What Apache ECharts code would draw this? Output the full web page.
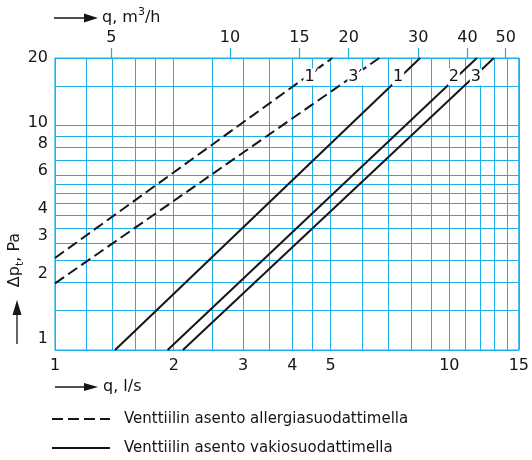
<!DOCTYPE html>
<html><head><meta charset="utf-8">
<script src="https://cdn.jsdelivr.net/npm/echarts@6/dist/echarts.min.js"></script>
<style>html,body{margin:0;padding:0;background:#fff}#c{width:532px;height:460px}</style>
</head><body><div id="c"></div>
<script>
// ---- data ----
const xLabelsLs = [1, 2, 3, 4, 5, 10, 15];                 // l/s labels
const xGridLs = [1, 1.2, 1.4, 1.6, 1.8, 2, 2.5, 3, 3.5, 4, 4.5, 5, 6, 7, 8, 9, 10, 11, 12, 13, 14, 15];
const xLabelsM3h = [5, 10, 15, 20, 30, 40, 50];            // m3/h labels (top)
const yLabels = [1, 2, 3, 4, 6, 8, 10, 20];
const yGrid = [1, 1.5, 2, 2.5, 3, 3.5, 4, 4.5, 5, 5.5, 6, 7, 8, 9, 10, 15, 20];
const qMin = 1, qMax = 15, dpMin = 1, dpMax = 20, lsToM3h = 3.6;

// dashed (allergy filter) lines
const line1pQ = [1, 5.05],  line1pDp = [2.57, 20];
const line3pQ = [1, 6.64],  line3pDp = [1.98, 20];
// solid (standard filter) lines
const line1Q = [1.42, 8.43], line1Dp = [1, 20];
const line2Q = [1.93, 11.74], line2Dp = [1, 20];
const line3Q = [2.11, 12.97], line3Dp = [1, 20];

const nameDashed = 'Venttiilin asento allergiasuodattimella';
const nameSolid = 'Venttiilin asento vakiosuodattimella';

// ---- styling ----
const FONT = 'DejaVu Sans';
const GRID_C = '#1cb0ea';
const INK = '#151515';

function mk(name, qs, dps, dashed, lab, off) {
  const data = qs.map((q, i) => [q, dps[i]]);
  const last = data.length - 1;
  data[last] = { value: data[last], label: { show: true, formatter: lab, offset: off } };
  return {
    type: 'line', name, data, xAxisIndex: 0, yAxisIndex: 0,
    symbol: 'circle', symbolSize: 1, showSymbol: true,
    itemStyle: { color: 'rgba(0,0,0,0)' },
    lineStyle: { color: INK, width: 2, type: dashed ? [11, 5] : 'solid' },
    label: { show: false, position: 'inside', color: INK, fontFamily: FONT, fontSize: 16,
             backgroundColor: '#fff', padding: [1, 1, 0, 1] },
    emphasis: { disabled: true }, silent: true, z: 3
  };
}

const chart = echarts.init(document.getElementById('c'), null, { renderer: 'canvas' });
const fmt = v => String(+(+v).toFixed(2));
chart.setOption({
  animation: false,
  backgroundColor: '#fff',
  grid: [
    { left: 55, top: 58, width: 465, height: 292, show: true, borderColor: GRID_C, borderWidth: 1.2 },
    { left: 55, top: 58, width: 465, height: 281, show: false }
  ],
  xAxis: [
    { gridIndex: 0, type: 'log', min: qMin, max: qMax, position: 'bottom',
      axisLine: { show: false },
      axisTick: { show: false, customValues: xGridLs },
      splitLine: { show: true, lineStyle: { color: GRID_C, width: 1 } },
      axisLabel: { customValues: xLabelsLs, formatter: fmt, margin: 8, color: INK, fontFamily: FONT, fontSize: 16 } },
    { gridIndex: 0, type: 'log', min: qMin * lsToM3h, max: qMax * lsToM3h, position: 'top',
      axisLine: { show: false },
      axisTick: { show: true, customValues: xLabelsM3h, length: 10, inside: false, lineStyle: { color: GRID_C, width: 1.2 } },
      splitLine: { show: false },
      axisLabel: { customValues: xLabelsM3h, formatter: fmt, margin: 12, color: INK, fontFamily: FONT, fontSize: 16 } },
    { gridIndex: 1, type: 'log', min: qMin, max: qMax, show: false }
  ],
  yAxis: [
    { gridIndex: 0, type: 'log', min: dpMin, max: dpMax,
      axisLine: { show: false },
      axisTick: { show: false, customValues: yGrid },
      splitLine: { show: true, lineStyle: { color: GRID_C, width: 1 } },
      axisLabel: { show: false } },
    { gridIndex: 1, type: 'log', min: dpMin, max: dpMax,
      axisLine: { show: false }, axisTick: { show: false }, splitLine: { show: false },
      axisLabel: { customValues: yLabels, formatter: fmt, margin: 7, color: INK, fontFamily: FONT, fontSize: 16 } }
  ],
  series: [
    mk(nameDashed, line1pQ, line1pDp, true, '1′', [-21, 19]),
    mk(nameDashed, line3pQ, line3pDp, true, '3′', [-24, 19]),
    mk(nameSolid, line1Q, line1Dp, false, '1', [-22, 19]),
    mk(nameSolid, line2Q, line2Dp, false, '2', [-23, 19]),
    mk(nameSolid, line3Q, line3Dp, false, '3', [-18, 19])
  ],
  graphic: [
    // top axis title
    { type: 'line', shape: { x1: 54, y1: 18, x2: 88, y2: 18 }, style: { stroke: INK, lineWidth: 1.3 } },
    { type: 'polygon', shape: { points: [[84, 13.5], [98, 18], [84, 22.5]] }, style: { fill: INK } },
    { type: 'text', x: 102, y: 18, style: { text: 'q, m{p|3}/h', fill: INK, fontFamily: FONT, fontSize: 16,
        lineHeight: 22, verticalAlign: 'middle', align: 'left',
        rich: { p: { fontSize: 11, lineHeight: 12, verticalAlign: 'top', fontFamily: FONT, fill: INK } } } },
    // bottom axis title
    { type: 'line', shape: { x1: 55, y1: 387, x2: 88, y2: 387 }, style: { stroke: INK, lineWidth: 1.3 } },
    { type: 'polygon', shape: { points: [[84, 383], [98, 387], [84, 391]] }, style: { fill: INK } },
    { type: 'text', x: 103, y: 387, style: { text: 'q, l/s', fill: INK, fontFamily: FONT, fontSize: 16,
        verticalAlign: 'middle', align: 'left' } },
    // y axis title
    { type: 'text', x: 15, y: 260, rotation: Math.PI / 2, style: { text: 'Δp{s|t}, Pa', fill: INK, fontFamily: FONT, fontSize: 16,
        lineHeight: 22, align: 'center', verticalAlign: 'middle',
        rich: { s: { fontSize: 11, lineHeight: 12, verticalAlign: 'bottom', fontFamily: FONT, fill: INK } } } },
    { type: 'line', shape: { x1: 17, y1: 344, x2: 17, y2: 312 }, style: { stroke: INK, lineWidth: 1.3 } },
    { type: 'polygon', shape: { points: [[12.5, 315], [17, 300], [21.5, 315]] }, style: { fill: INK } },
    // legend
    { type: 'line', shape: { x1: 52, y1: 419, x2: 110, y2: 419 }, style: { stroke: INK, lineWidth: 2, lineDash: [11, 5] } },
    { type: 'text', x: 124, y: 419, style: { text: nameDashed, fill: INK, fontFamily: FONT, fontSize: 15, verticalAlign: 'middle' } },
    { type: 'line', shape: { x1: 52, y1: 448, x2: 110, y2: 448 }, style: { stroke: INK, lineWidth: 2 } },
    { type: 'text', x: 124, y: 448, style: { text: nameSolid, fill: INK, fontFamily: FONT, fontSize: 15, verticalAlign: 'middle' } }
  ]
});
</script></body></html>
